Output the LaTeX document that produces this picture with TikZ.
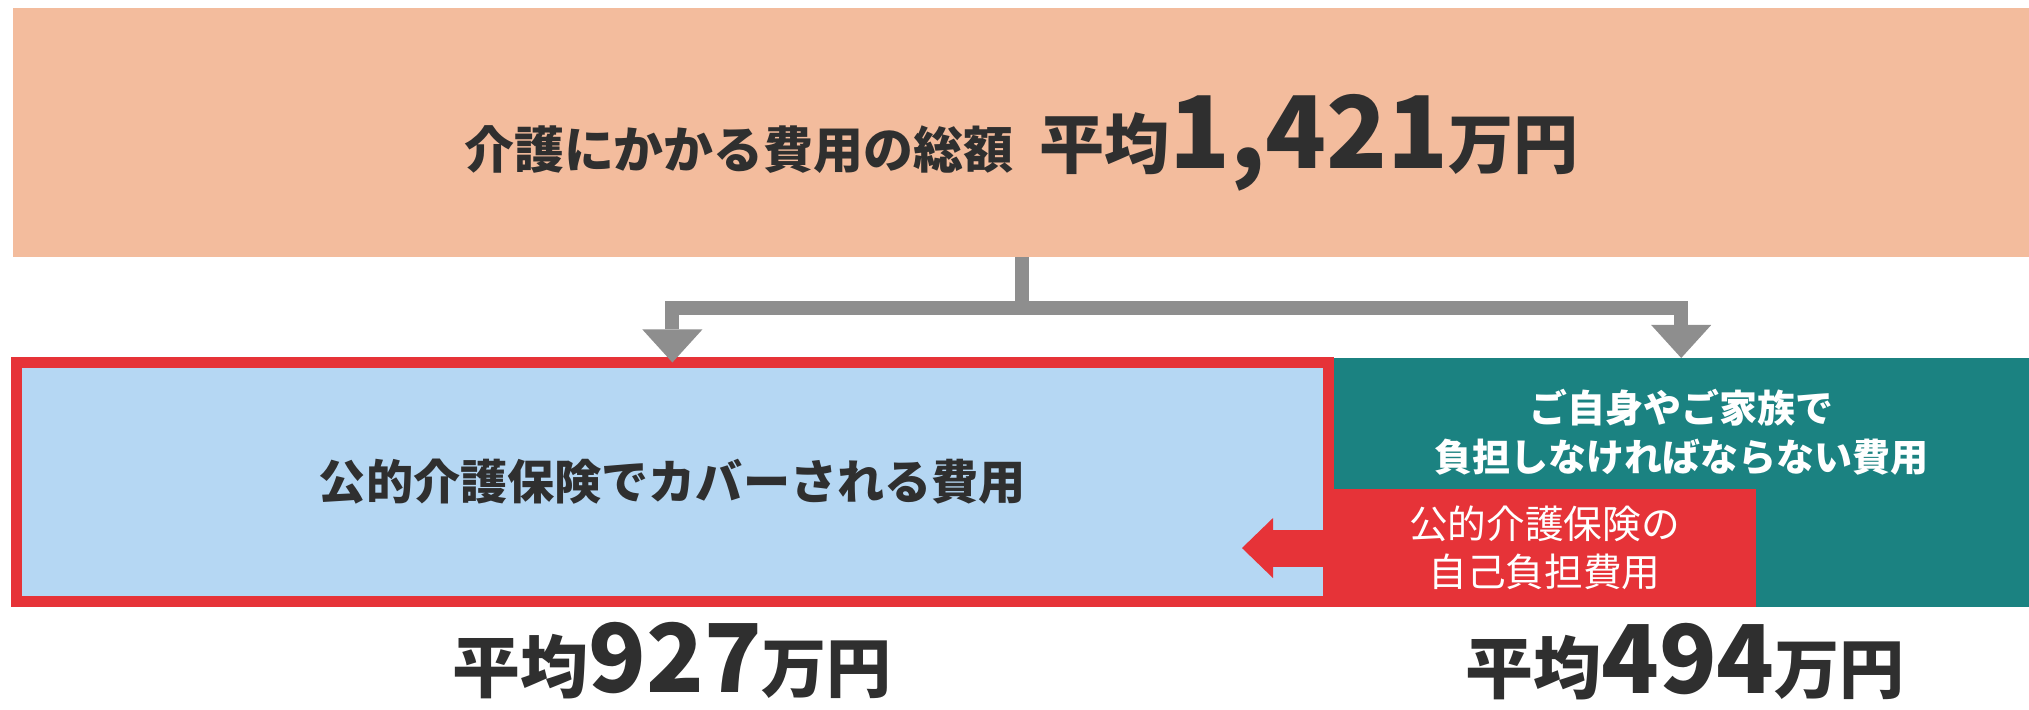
\documentclass[tikz,border=0pt]{standalone}
\usepackage{fontspec}
\setmainfont{Noto Sans CJK JP}
\usetikzlibrary{arrows.meta,positioning}

\definecolor{salmon}{HTML}{F3BC9D}
\definecolor{kteal}{HTML}{1B8281}
\definecolor{kblue}{HTML}{B5D7F3}
\definecolor{kred}{HTML}{E63338}
\definecolor{kgray}{HTML}{8E8E8E}
\definecolor{ktext}{HTML}{2F2F2F}

\begin{document}
\begin{tikzpicture}[x=0.01cm,y=-0.01cm,
  box/.style={inner sep=0pt,outer sep=0pt,anchor=north west},
  stem/.style={draw=kgray,line width=0.14cm},
  conn/.style={stem,-{Triangle[width=0.6cm,length=0.33cm,line width=0pt]}},
  redarrow/.style={draw=kred,line width=0.37cm,-{Triangle[width=0.6cm,length=0.31cm,line width=0pt]}},
  sumtext/.style={anchor=base,text=ktext,font=\bfseries}]
  \useasboundingbox (0,0) rectangle (2029,710);

  % total cost bar
  \node[box,fill=salmon,minimum width=20.16cm,minimum height=2.49cm] (total) at (13,8) {};
  \node[anchor=base,text=ktext,font=\bfseries] (totallabel) at ([yshift=-0.355cm]total.center)
    {\fontsize{14.2}{16}\selectfont 介護にかかる費用の総額\hspace{0.26cm}{\fontsize{18.5}{20}\selectfont 平均}{\fontsize{28.5}{30}\selectfont 1,421}{\fontsize{18.5}{20}\selectfont 万円}};

  % the two parts
  \node[box,fill=kteal,minimum width=6.96cm,minimum height=2.49cm] (own) at (1333,358) {};
  \node[box,fill=kblue,draw=kred,line width=0.11cm,minimum width=13.11cm,minimum height=2.39cm,
    text=ktext,font=\bfseries\fontsize{13.4}{15}\selectfont] (covered) at (16.5,362.5)
    {\raisebox{-0.1cm}{公的介護保険でカバーされる費用}};
  \node[box,fill=kred,minimum width=4.23cm,minimum height=1.18cm,align=center,
    text=white,font=\fontsize{11}{13.7}\selectfont] (selfpay) at (1333,489)
    {公的介護保険の\\自己負担費用};
  \node[inner sep=0pt,below=0.3cm of own.north,align=center,text=white,
    font=\bfseries\fontsize{10.8}{14.2}\selectfont] (ownlabel)
    {ご自身やご家族で\\負担しなければならない費用};

  % connectors
  \coordinate (split) at ([yshift=-0.51cm]total.south);
  \draw[stem] (total.south) -- (split);
  \draw[conn] (split) -| (covered.north);
  \draw[conn] (split) -| (own.north);
  \draw[redarrow] (selfpay.west) -- ++(-91,0);

  % averages
  \node[sumtext] (coveredsum) at ([yshift=-0.91cm]covered.south)
    {{\fontsize{19.3}{21}\selectfont 平均}{\fontsize{27}{29}\selectfont 927}{\fontsize{18.5}{20}\selectfont 万円}};
  \node[sumtext] (ownsum) at ([yshift=-0.86cm,xshift=0.04cm]own.south)
    {{\fontsize{19.3}{21}\selectfont 平均}{\fontsize{27}{29}\selectfont 494}{\fontsize{18.5}{20}\selectfont 万円}};
\end{tikzpicture}
\end{document}
